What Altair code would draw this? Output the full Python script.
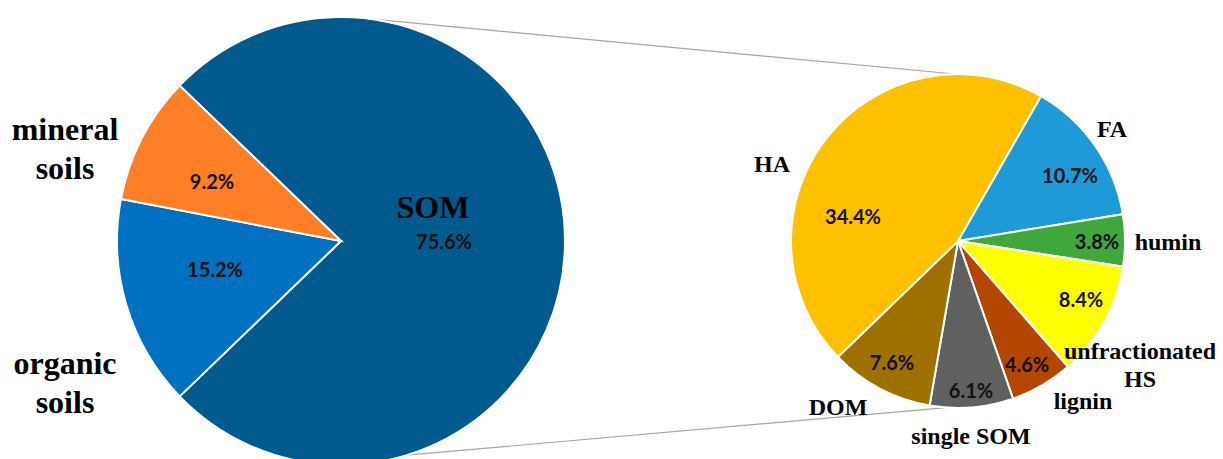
import math
import altair as alt
import pandas as pd

# ---------------- data ----------------
outer_names = ["SOM", "organic soils", "mineral soils"]
outer_values = [75.6, 15.2, 9.2]

inner_names = ["FA", "humin", "unfractionated HS", "lignin", "single SOM", "DOM", "HA"]
inner_values = [10.7, 3.8, 8.4, 4.6, 6.1, 7.6, 34.4]

# ---------------- styles ----------------
outer_colors = ["#015A8E", "#0070C0", "#FF7F27"]
inner_colors = ["#1E9AD6", "#3FA73B", "#FFFF00", "#B34700", "#606060", "#9E7000", "#FFC000"]

W, H = 1207, 451
X0, Y0 = 8, 8  # page margin
LEFT_C, LEFT_R = (341, 241), 224
RIGHT_C, RIGHT_R = (958, 241), 167
LEFT_START = math.radians(90 - outer_values[0] / sum(outer_values) * 180)
RIGHT_START = math.radians(29.8)

# label anchor positions (page pixels)
name_pos = {
    "SOM": (433, 208), "organic soils": (65, 364), "mineral soils": (65, 130),
    "FA": (1112, 130), "humin": (1168, 243), "unfractionated HS": (1140, 352),
    "lignin": (1083, 402), "single SOM": (971, 437), "DOM": (838, 408), "HA": (772, 165),
}
pct_pos = {
    "SOM": (444, 243), "organic soils": (215, 271), "mineral soils": (212, 183),
    "FA": (1070, 177), "humin": (1097, 243), "unfractionated HS": (1081, 301),
    "lignin": (1027, 366), "single SOM": (971, 392), "DOM": (892, 364), "HA": (853, 218),
}

xs = alt.Scale(domain=[X0, X0 + W], range=[0, W])
ys = alt.Scale(domain=[Y0 + H, Y0], range=[H, 0])


def pie_df(names, values, center):
    return pd.DataFrame({
        "name": names, "value": values, "idx": list(range(len(names))),
        "cx": center[0], "cy": center[1],
    })


def pie(df, names, colors, radius, start):
    return alt.Chart(df).mark_arc(radius=radius, stroke="white", strokeWidth=2).encode(
        theta=alt.Theta("value:Q", stack=True,
                        scale=alt.Scale(range=[start, start + 2 * math.pi])),
        color=alt.Color("name:N", scale=alt.Scale(domain=names, range=colors), legend=None),
        order=alt.Order("idx:Q"),
        x=alt.X("cx:Q", scale=xs, axis=None),
        y=alt.Y("cy:Q", scale=ys, axis=None),
    )


left = pie(pie_df(outer_names, outer_values, LEFT_C), outer_names, outer_colors, LEFT_R, LEFT_START)
right = pie(pie_df(inner_names, inner_values, RIGHT_C), inner_names, inner_colors, RIGHT_R, RIGHT_START)


def on_circle(center, r, deg):
    a = math.radians(deg)
    return center[0] + r * math.sin(a), center[1] - r * math.cos(a)


# connector lines between the pies
p1 = on_circle(LEFT_C, LEFT_R, 8)
p2 = on_circle(RIGHT_C, RIGHT_R, -1)
p3 = on_circle(LEFT_C, LEFT_R, 163)
p4 = on_circle(RIGHT_C, RIGHT_R, 184)
conn_df = pd.DataFrame({
    "x": [p1[0], p3[0]], "y": [p1[1], p3[1]],
    "x2": [p2[0], p4[0]], "y2": [p2[1], p4[1]],
})
connectors = alt.Chart(conn_df).mark_rule(color="#A6A6A6", strokeWidth=1.2).encode(
    x=alt.X("x:Q", scale=xs, axis=None), y=alt.Y("y:Q", scale=ys, axis=None),
    x2="x2:Q", y2="y2:Q",
)

all_names = outer_names + inner_names
all_values = outer_values + inner_values
big = set(outer_names)

names_df = pd.DataFrame({
    "label": [n.replace(" ", "\n") if n in ("organic soils", "mineral soils", "unfractionated HS") else n
              for n in all_names],
    "x": [name_pos[n][0] for n in all_names],
    "y": [name_pos[n][1] for n in all_names],
    "size": [32 if n in big else 24 for n in all_names],
})
pct_df = pd.DataFrame({
    "label": [f"{v:.1f}%" for v in all_values],
    "x": [pct_pos[n][0] for n in all_names],
    "y": [pct_pos[n][1] for n in all_names],
})

name_text_big = alt.Chart(names_df[names_df["size"] == 32]).mark_text(
    font="Liberation Serif", fontWeight="bold", fontSize=32, align="center",
    baseline="middle", lineBreak="\n", lineHeight=39, color="black",
).encode(x=alt.X("x:Q", scale=xs, axis=None), y=alt.Y("y:Q", scale=ys, axis=None), text="label:N")

name_text_small = alt.Chart(names_df[names_df["size"] == 24]).mark_text(
    font="Liberation Serif", fontWeight="bold", fontSize=24, align="center",
    baseline="middle", lineBreak="\n", lineHeight=28, color="black",
).encode(x=alt.X("x:Q", scale=xs, axis=None), y=alt.Y("y:Q", scale=ys, axis=None), text="label:N")

pct_text = alt.Chart(pct_df).mark_text(
    font="Lato", fontWeight="bold", fontSize=20, align="center", baseline="middle", color="#111111",
).encode(x=alt.X("x:Q", scale=xs, axis=None), y=alt.Y("y:Q", scale=ys, axis=None), text="label:N")

chart = alt.layer(connectors, left, right, name_text_big, name_text_small, pct_text).resolve_scale(
    theta="independent", color="independent"
).properties(
    width=W, height=H, padding=0, background="white",
    autosize=alt.AutoSizeParams(type="none"),
).configure_view(stroke=None)

chart.save("out.html", embed_options={"renderer": "svg", "actions": False})
